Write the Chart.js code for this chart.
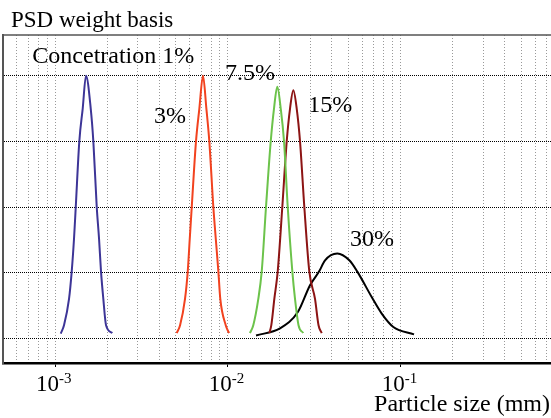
<!DOCTYPE html>
<html>
<head>
<meta charset="utf-8">
<script src="https://cdn.jsdelivr.net/npm/chart.js@4.4.1/dist/chart.umd.min.js"></script>
<style>
  html, body { margin: 0; padding: 0; background: #fff; }
  #chartContainer { width: 551px; height: 418px; }
</style>
</head>
<body>
<div id="chartContainer"><canvas id="myChart"></canvas></div>
<script>
// particle size (mm) / relative amount
const conc1Size = [1.079e-3, 1.127e-3, 1.205e-3, 1.249e-3, 1.288e-3, 1.318e-3, 1.382e-3, 1.446e-3, 1.511e-3, 1.609e-3, 1.666e-3, 1.743e-3, 1.797e-3, 1.845e-3, 1.903e-3, 1.973e-3, 2.146e-3];
const conc1Value = [1.8, 5, 15, 25.5, 38, 50, 75, 87.5, 100, 87.5, 75, 50, 38, 25.5, 15, 5, 2];

const conc3Size = [5.06e-3, 5.29e-3, 5.65e-3, 5.86e-3, 6.02e-3, 6.18e-3, 6.54e-3, 6.84e-3, 7.18e-3, 7.51e-3, 7.81e-3, 8.24e-3, 8.51e-3, 8.81e-3, 9.04e-3, 9.72e-3, 10.15e-3];
const conc3Value = [2, 5, 15, 25.5, 38, 50, 75, 87.5, 100, 87.5, 75, 50, 38, 25.5, 15, 5, 2];

const conc75Size = [13.43e-3, 14.03e-3, 15.0e-3, 15.7e-3, 16.62e-3, 17.7e-3, 18.49e-3, 19.32e-3, 20.22e-3, 21.13e-3, 22.2e-3, 23.6e-3, 24.46e-3, 25.63e-3, 27.32e-3];
const conc75Value = [2, 5, 15, 25.5, 50, 75, 87.5, 95.8, 87.5, 75, 50, 25.5, 15, 5, 2];

const conc15Size = [17.37e-3, 17.84e-3, 18.57e-3, 19.43e-3, 20.65e-3, 21.9e-3, 22.89e-3, 23.92e-3, 25.02e-3, 26.15e-3, 27.69e-3, 29.59e-3, 31.93e-3, 33.46e-3, 34.91e-3];
const conc15Value = [2, 5, 15, 25.5, 50, 75, 87.5, 94.5, 87.5, 75, 50, 25.5, 15, 5, 2];

const conc30Size = [14.55e-3, 20.03e-3, 25.46e-3, 29.87e-3, 33.68e-3, 36.49e-3, 42.97e-3, 50.43e-3, 56.1e-3, 67.96e-3, 77.65e-3, 90.62e-3, 119.4e-3];
const conc30Value = [1.1, 3.8, 10.1, 20.2, 25.4, 29.7, 32.3, 29.7, 25.4, 15.7, 9.4, 4.3, 1.5];

// curve labels, placed in data coordinates (left end of text, baseline)
const labelText = ['Concetration 1%', '3%', '7.5%', '15%', '30%'];
const labelSize = [7.39e-4, 3.74e-3, 9.63e-3, 29.2e-3, 50.9e-3];
const labelValue = [104.9, 82, 98.3, 86.2, 35.2];

// axes
const decades = [0.001, 0.01, 0.1];
const decadeExp = ['-3', '-2', '-1'];
const gridSteps = [1, 2, 3, 4, 5, 6, 7, 8, 9];
const gridDecades = [0.0001, 0.001, 0.01, 0.1];
const yGrid = [0, 25, 50, 75, 100];
const xMin = 5e-4, xMax = 0.7405;
const yMin = -9.4, yMax = 115.5;

const xGrid = [];
gridDecades.forEach(d => gridSteps.forEach(s => {
    const v = parseFloat((d * s).toPrecision(3));
    if (v >= xMin && v <= xMax) xGrid.push(v);
}));

function pts(sizes, values) {
    return sizes.map((s, i) => ({ x: s, y: values[i] }));
}

const serif = '"Liberation Serif", "Times New Roman", serif';

const textPlugin = {
    id: 'texts',
    afterDraw(chart) {
        const { ctx, chartArea } = chart;
        const x = chart.scales.x, y = chart.scales.y;
        ctx.save();
        // top frame line
        ctx.strokeStyle = '#555';
        ctx.lineWidth = 1.5;
        ctx.beginPath();
        ctx.moveTo(chartArea.left - 1, chartArea.top);
        ctx.lineTo(chartArea.right, chartArea.top);
        ctx.stroke();

        ctx.fillStyle = '#000';
        ctx.textBaseline = 'alphabetic';
        ctx.textAlign = 'left';
        ctx.font = '23px ' + serif;
        ctx.fillText('PSD weight basis', 11, 27);

        ctx.font = '24px ' + serif;
        labelText.forEach((t, i) => {
            ctx.fillText(t, x.getPixelForValue(labelSize[i]), y.getPixelForValue(labelValue[i]));
        });

        // decade labels 10^n
        decades.forEach((d, i) => {
            const px = x.getPixelForValue(d);
            ctx.font = '23px ' + serif;
            ctx.textAlign = 'right';
            ctx.fillText('10', px + 4, 391);
            ctx.font = '15px ' + serif;
            ctx.textAlign = 'left';
            ctx.fillText(decadeExp[i], px + 4, 383);
        });

        ctx.font = '24px ' + serif;
        ctx.textAlign = 'right';
        ctx.fillText('Particle size (mm)', 550, 411);
        ctx.restore();
    }
};

const ctx = document.getElementById('myChart').getContext('2d');
const myChart = new Chart(ctx, {
    type: 'line',
    data: {
        datasets: [
            { label: '1%', data: pts(conc1Size, conc1Value), borderColor: '#3d3597' },
            { label: '3%', data: pts(conc3Size, conc3Value), borderColor: '#f2421f' },
            { label: '7.5%', data: pts(conc75Size, conc75Value), borderColor: '#6cc34b' },
            { label: '15%', data: pts(conc15Size, conc15Value), borderColor: '#8c1414' },
            { label: '30%', data: pts(conc30Size, conc30Value), borderColor: '#000000' }
        ]
    },
    options: {
        responsive: true,
        maintainAspectRatio: false,
        animation: false,
        devicePixelRatio: 1,
        layout: { padding: { top: 35, left: 0, right: 0, bottom: 0 } },
        elements: {
            line: { borderWidth: 2, tension: 0.4, cubicInterpolationMode: 'monotone', fill: false },
            point: { radius: 0, hoverRadius: 0 }
        },
        plugins: {
            legend: { display: false },
            tooltip: { enabled: false },
            title: { display: false }
        },
        scales: {
            x: {
                type: 'logarithmic',
                min: xMin,
                max: xMax,
                afterBuildTicks: (scale) => {
                    scale.ticks = xGrid.map(v => ({ value: v, major: decades.includes(v) }));
                },
                afterFit: (scale) => { scale.height = 55; },
                ticks: { display: false },
                grid: {
                    color: '#999',
                    lineWidth: 1,
                    tickLength: 4,
                    tickColor: (c) => (c.tick && c.tick.major ? '#000' : 'rgba(0,0,0,0)')
                },
                border: { color: '#000', width: 2.5, dash: [1, 2] }
            },
            y: {
                type: 'linear',
                min: yMin,
                max: yMax,
                afterBuildTicks: (scale) => {
                    scale.ticks = yGrid.map(v => ({ value: v }));
                },
                afterFit: (scale) => { scale.width = 3; },
                ticks: { display: false },
                grid: { color: '#000', lineWidth: 1, drawTicks: false },
                border: { color: '#555', width: 2, dash: [1, 1] }
            }
        }
    },
    plugins: [textPlugin]
});
</script>
</body>
</html>
